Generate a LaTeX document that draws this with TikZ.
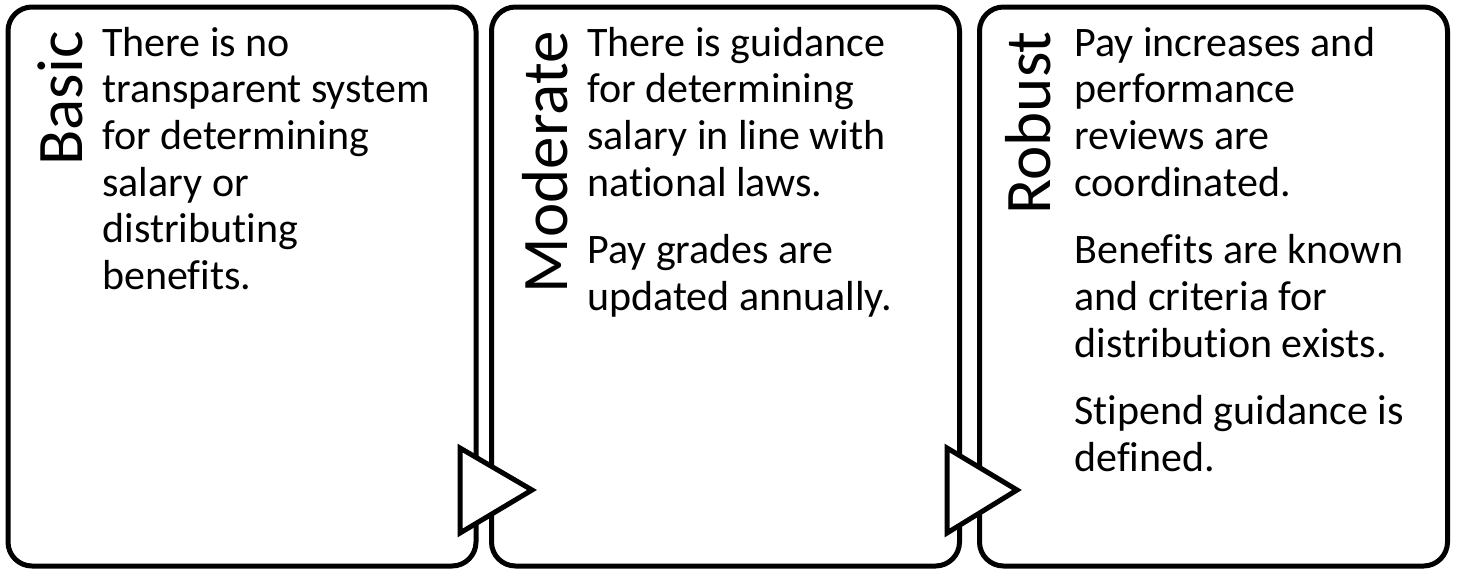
\documentclass[tikz,border=0pt]{standalone}
\usepackage{fontspec}
\setmainfont[Ligatures=CommonOff]{Carlito}
\tikzset{
  stagebox/.style={draw=black, line width=2.5pt, fill=white, rounded corners=12pt,
    minimum width=234pt, minimum height=279.5pt, inner sep=0pt},
  stagetitle/.style={rotate=90, anchor=base east, inner sep=0pt,
    font=\fontsize{32.5}{39}\selectfont},
  stagetext/.style={anchor=base west, inner sep=0pt},
  arrowtri/.style={draw=black, line width=2.5pt, fill=white, line join=miter}
}
\newcommand{\stagepar}[2]{\parbox[t]{#1}{\fontsize{21}{23.35}\selectfont\raggedright\setlength{\parskip}{10.5pt}#2}}
\begin{document}
\begin{tikzpicture}[x=0.5pt,y=-0.5pt]
\useasboundingbox (0,0) rectangle (1457,569);
\node[stagebox] (b1) at (242,286.5) {};
\node[stagebox] (b2) at (725.5,286.5) {};
\node[stagebox] (b3) at (1213.5,286.5) {};
\filldraw[arrowtri] (460,448) -- (532,490) -- (460,533) -- cycle;
\filldraw[arrowtri] (947,448) -- (1017,490) -- (947,533) -- cycle;
\node[stagetitle] (t1) at (82,31) {Basic};
\node[stagetitle] (t2) at (567,31) {Moderate};
\node[stagetitle] (t3) at (1050,31) {Robust};
\node[stagetext] (x1) at (102,56) {\stagepar{180pt}{There is no\\ transparent system\\ for determining\\ salary or\\ distributing\\ benefits.}};
\node[stagetext] (x2) at (587,56) {\stagepar{180pt}{There is guidance\\ for determining\\ salary in line with\\ national laws.\par Pay grades are\\ updated annually.}};
\node[stagetext] (x3) at (1074,56) {\stagepar{180pt}{Pay increases and\\ performance\\ reviews are\\ coordinated.\par Benefits are known\\ and criteria for\\ distribution exists.\par Stipend guidance is\\ defined.}};
\end{tikzpicture}
\end{document}
